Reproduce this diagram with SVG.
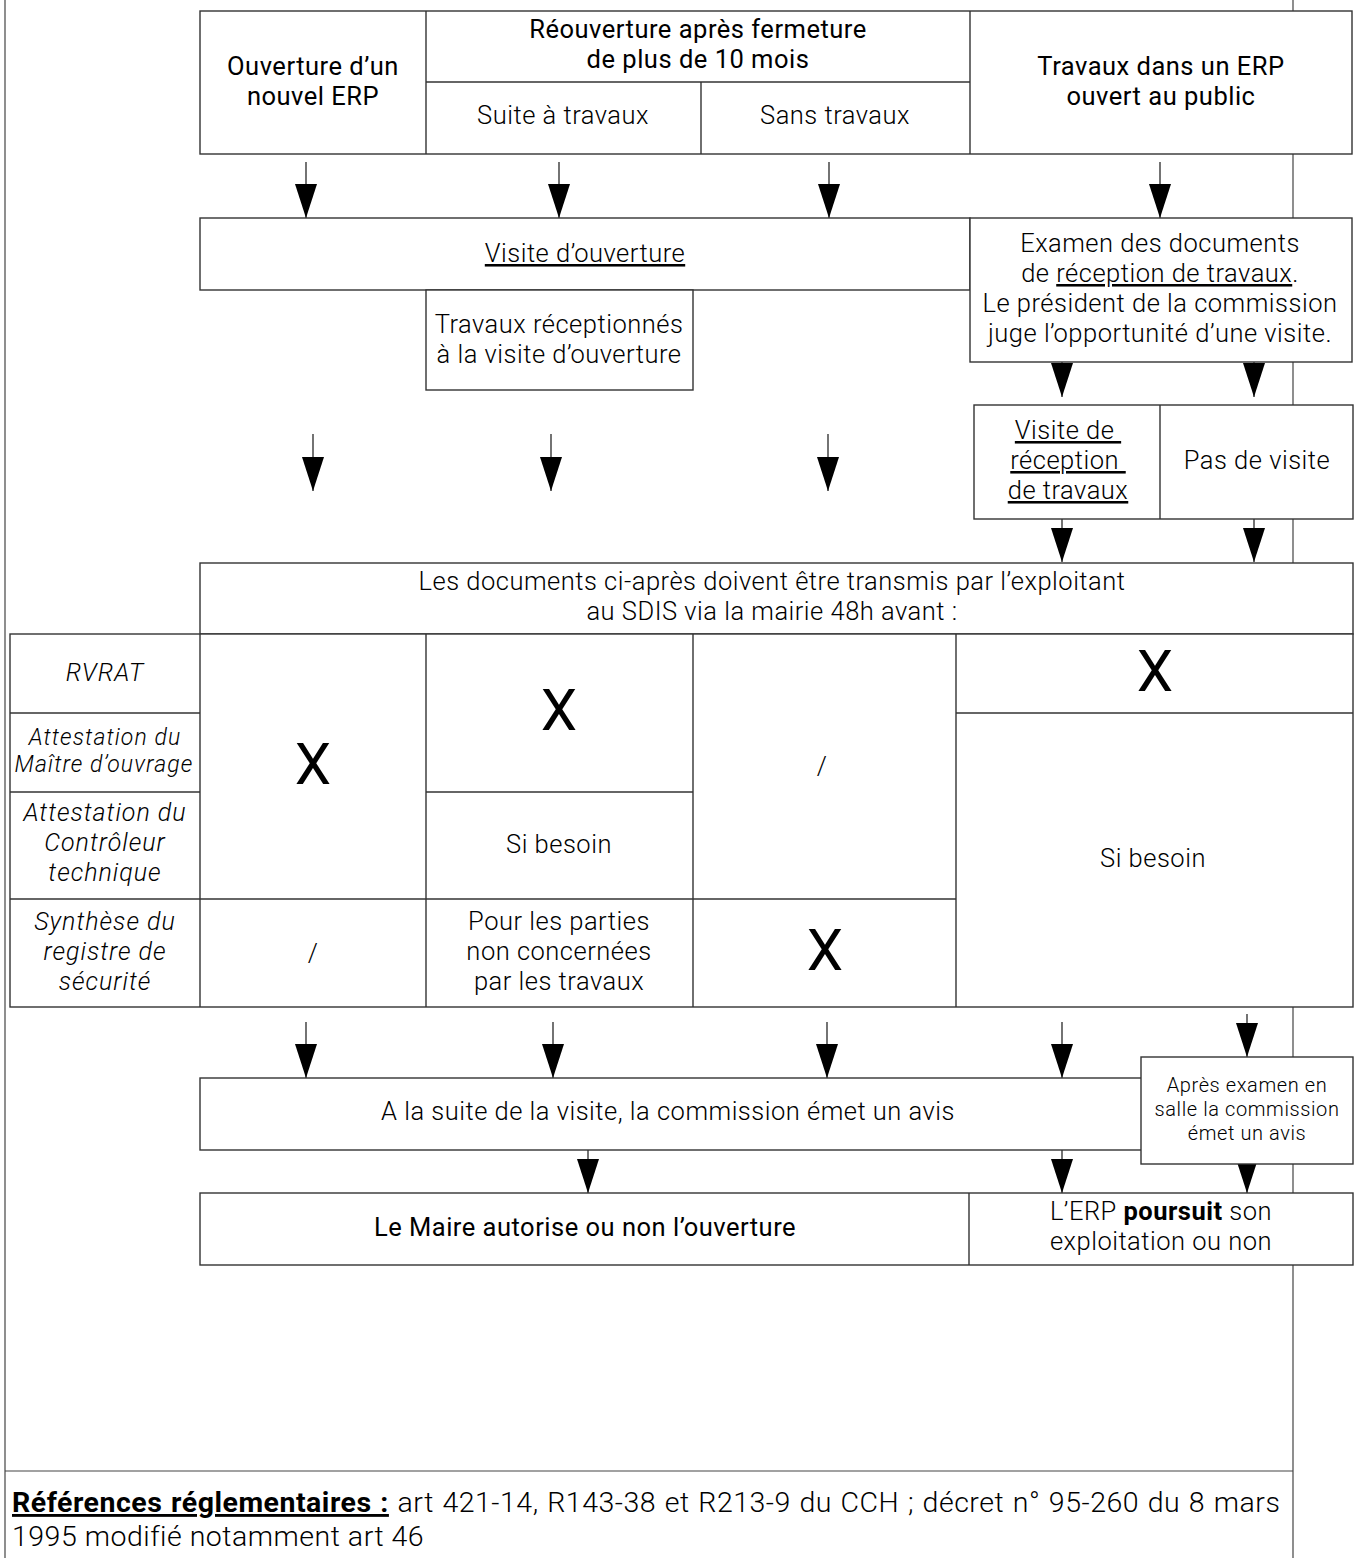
<svg xmlns="http://www.w3.org/2000/svg" width="1354" height="1558" viewBox="0 0 1354 1558">
  <defs>
    <style>
      .frame { stroke: #444; stroke-width: 1.2; fill: none; }
      .box { fill: #fff; stroke: #333; stroke-width: 1.4; }
      .div { stroke: #333; stroke-width: 1.4; fill: none; }
      .arrow { stroke: #000; stroke-width: 1.1; fill: none; marker-end: url(#head); }
      text { font-family: Roboto, "Open Sans", "Liberation Sans", sans-serif; fill: #000; text-anchor: middle; }
      .t { font-size: 25.5px; font-weight: 300; letter-spacing: 0.5px; }
      .h { font-size: 25.5px; font-weight: 400; letter-spacing: 0.5px; }
      .i { font-size: 25px; font-weight: 300; font-style: italic; letter-spacing: 1px; }
      .is { font-size: 23px; font-weight: 300; font-style: italic; letter-spacing: 1.1px; }
      .s { font-size: 20px; font-weight: 300; letter-spacing: 0.6px; }
      .x { font-size: 58px; font-weight: 400; }
      .u { text-decoration: underline; }
      .pre { white-space: pre; }
      .ref { font-size: 28.5px; font-weight: 300; letter-spacing: 0.5px; text-anchor: start; }
    </style>
    <marker id="head" viewBox="0 0 34 22" refX="34" refY="11" markerWidth="34" markerHeight="22" markerUnits="userSpaceOnUse" orient="auto">
      <path d="M0,0 L34,11 L0,22 z" fill="#000"/>
    </marker>
  </defs>

  <!-- page frame -->
  <g id="frame">
    <line class="frame" x1="5" y1="0" x2="5" y2="1558"/>
    <line class="frame" x1="1293" y1="0" x2="1293" y2="1558"/>
    <line class="frame" x1="5" y1="1471" x2="1293" y2="1471"/>
  </g>

  <!-- connectors -->
  <g id="connectors">
    <line class="arrow" x1="306" y1="162" x2="306" y2="218"/>
    <line class="arrow" x1="559" y1="162" x2="559" y2="218"/>
    <line class="arrow" x1="829" y1="162" x2="829" y2="218"/>
    <line class="arrow" x1="1160" y1="162" x2="1160" y2="218"/>

    <line class="arrow" x1="1062" y1="362" x2="1062" y2="397"/>
    <line class="arrow" x1="1254" y1="362" x2="1254" y2="397"/>

    <line class="arrow" x1="313" y1="434" x2="313" y2="491"/>
    <line class="arrow" x1="551" y1="434" x2="551" y2="491"/>
    <line class="arrow" x1="828" y1="434" x2="828" y2="491"/>

    <line class="arrow" x1="1062" y1="519" x2="1062" y2="562"/>
    <line class="arrow" x1="1254" y1="519" x2="1254" y2="562"/>

    <line class="arrow" x1="306" y1="1022" x2="306" y2="1078"/>
    <line class="arrow" x1="553" y1="1022" x2="553" y2="1078"/>
    <line class="arrow" x1="827" y1="1022" x2="827" y2="1078"/>
    <line class="arrow" x1="1062" y1="1022" x2="1062" y2="1078"/>
    <line class="arrow" x1="1247" y1="1014" x2="1247" y2="1057"/>

    <line class="arrow" x1="588" y1="1150" x2="588" y2="1193"/>
    <line class="arrow" x1="1062" y1="1150" x2="1062" y2="1193"/>
    <line class="arrow" x1="1247" y1="1164" x2="1247" y2="1193"/>
  </g>

  <!-- starting situations -->
  <g id="situations">
    <rect class="box" x="200" y="11" width="1152" height="143"/>
    <line class="div" x1="426" y1="11" x2="426" y2="154"/>
    <line class="div" x1="970" y1="11" x2="970" y2="154"/>
    <line class="div" x1="426" y1="82" x2="970" y2="82"/>
    <line class="div" x1="701" y1="82" x2="701" y2="154"/>
    <text class="h" x="313" y="75">Ouverture d’un</text>
    <text class="h" x="313" y="105">nouvel ERP</text>
    <text class="h" x="698" y="38">Réouverture après fermeture</text>
    <text class="h" x="698" y="68">de plus de 10 mois</text>
    <text class="t" x="563" y="124">Suite à travaux</text>
    <text class="t" x="835" y="124">Sans travaux</text>
    <text class="h" x="1161" y="75">Travaux dans un ERP</text>
    <text class="h" x="1161" y="105">ouvert au public</text>
  </g>

  <g id="visite-ouverture">
    <rect class="box" x="200" y="218" width="770" height="72"/>
    <text class="t u" x="585" y="262">Visite d’ouverture</text>
  </g>

  <g id="examen-documents">
    <rect class="box" x="970" y="218" width="382" height="144"/>
    <text class="t" x="1160" y="252">Examen des documents</text>
    <text class="t" x="1160" y="282">de <tspan class="u">réception de travaux</tspan>.</text>
    <text class="t" x="1160" y="312">Le président de la commission</text>
    <text class="t" x="1160" y="342">juge l’opportunité d’une visite.</text>
  </g>

  <g id="travaux-receptionnes">
    <rect class="box" x="426" y="290" width="267" height="100"/>
    <text class="t" x="559" y="333">Travaux réceptionnés</text>
    <text class="t" x="559" y="363">à la visite d’ouverture</text>
  </g>

  <g id="visite-reception">
    <rect class="box" x="974" y="405" width="379" height="114"/>
    <line class="div" x1="1160" y1="405" x2="1160" y2="519"/>
    <text class="t u pre" x="1068" y="439">Visite de </text>
    <text class="t u pre" x="1068" y="469">réception </text>
    <text class="t u" x="1068" y="499">de travaux</text>
    <text class="t" x="1257" y="469">Pas de visite</text>
  </g>

  <g id="documents-transmis">
    <rect class="box" x="200" y="563" width="1153" height="71"/>
    <text class="t" x="772" y="590">Les documents ci-après doivent être transmis par l’exploitant</text>
    <text class="t" x="772" y="620">au SDIS via la mairie 48h avant :</text>
  </g>

  <!-- table of documents -->
  <g id="table-documents">
    <rect class="box" x="10" y="634" width="1343" height="373"/>
    <line class="div" x1="200" y1="634" x2="200" y2="1007"/>
    <line class="div" x1="426" y1="634" x2="426" y2="1007"/>
    <line class="div" x1="693" y1="634" x2="693" y2="1007"/>
    <line class="div" x1="956" y1="634" x2="956" y2="1007"/>
    <line class="div" x1="10" y1="713" x2="200" y2="713"/>
    <line class="div" x1="956" y1="713" x2="1353" y2="713"/>
    <line class="div" x1="10" y1="792" x2="200" y2="792"/>
    <line class="div" x1="426" y1="792" x2="693" y2="792"/>
    <line class="div" x1="10" y1="899" x2="956" y2="899"/>

    <text class="i" x="105" y="681">RVRAT</text>
    <text class="is" x="105" y="745">Attestation du</text>
    <text class="is" x="104" y="772">Maître d’ouvrage</text>
    <text class="i" x="105" y="821">Attestation du</text>
    <text class="i" x="105" y="851">Contrôleur</text>
    <text class="i" x="105" y="881">technique</text>
    <text class="i" x="105" y="930">Synthèse du</text>
    <text class="i" x="105" y="960">registre de</text>
    <text class="i" x="105" y="990">sécurité</text>

    <text class="x" x="313" y="784">X</text>
    <text class="t" x="313" y="962">/</text>

    <text class="x" x="559" y="730">X</text>
    <text class="t" x="559" y="853">Si besoin</text>
    <text class="t" x="559" y="930">Pour les parties</text>
    <text class="t" x="559" y="960">non concernées</text>
    <text class="t" x="559" y="990">par les travaux</text>

    <text class="t" x="822" y="775">/</text>
    <text class="x" x="825" y="970">X</text>

    <text class="x" x="1155" y="691">X</text>
    <text class="t" x="1153" y="867">Si besoin</text>
  </g>

  <g id="avis-visite">
    <rect class="box" x="200" y="1078" width="960" height="72"/>
    <text class="t" x="668" y="1120">A la suite de la visite, la commission émet un avis</text>
  </g>

  <g id="avis-salle">
    <rect class="box" x="1141" y="1057" width="212" height="107"/>
    <text class="s" x="1247" y="1092">Après examen en</text>
    <text class="s" x="1247" y="1116">salle la commission</text>
    <text class="s" x="1247" y="1140">émet un avis</text>
  </g>

  <g id="decision">
    <rect class="box" x="200" y="1193" width="1153" height="72"/>
    <line class="div" x1="969" y1="1193" x2="969" y2="1265"/>
    <text class="h" x="585" y="1236">Le Maire autorise ou non l’ouverture</text>
    <text class="t" x="1161" y="1220">L’ERP <tspan font-weight="700">poursuit</tspan> son</text>
    <text class="t" x="1161" y="1250">exploitation ou non</text>
  </g>

  <g id="references">
    <text class="ref" x="12" y="1512" word-spacing="1.2"><tspan font-weight="700" class="u">Références réglementaires :</tspan> art 421-14, R143-38 et R213-9 du CCH ; décret n° 95-260 du 8 mars</text>
    <text class="ref" x="12" y="1546">1995 modifié notamment art 46</text>
  </g>
</svg>
